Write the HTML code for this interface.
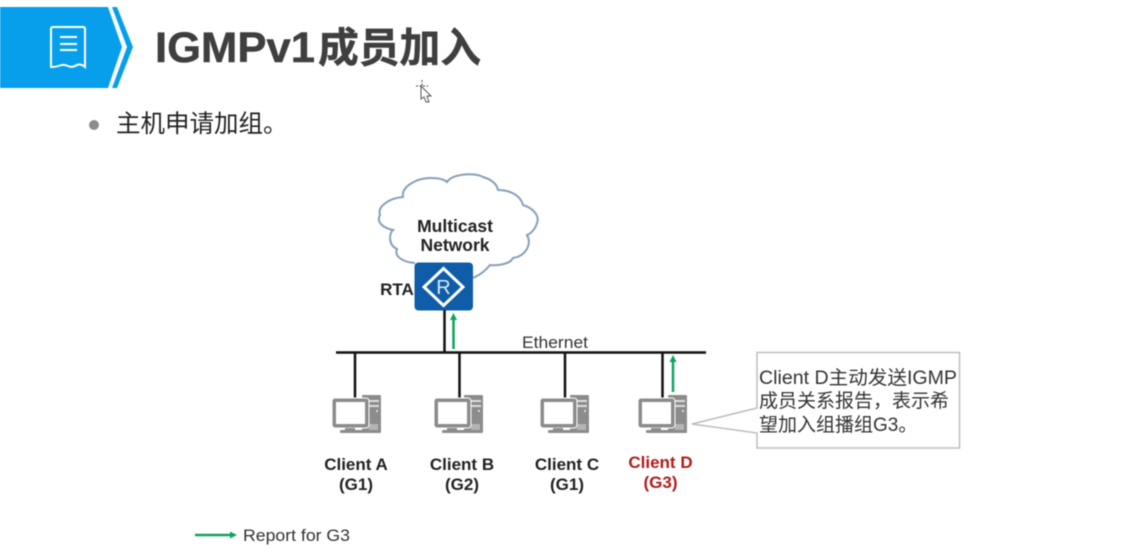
<!DOCTYPE html>
<html>
<head>
<meta charset="utf-8">
<style>
html,body{margin:0;padding:0;background:#fff;width:1122px;height:548px;overflow:hidden}
svg{display:block;filter:blur(0.4px)}
text{font-family:"Liberation Sans","Noto Sans CJK SC",sans-serif}
.b{font-weight:bold;fill:#222;font-size:17px;text-anchor:middle}
.r{font-weight:bold;fill:#b01c1c;font-size:17px;text-anchor:middle}
.c{font-size:19px;fill:#333}
</style>
</head>
<body>
<svg width="1122" height="548" viewBox="0 0 1122 548" xmlns="http://www.w3.org/2000/svg">
<defs>
<g id="pc">
  <rect x="362" y="395" width="19" height="38" rx="1" fill="#8c8c8c"/>
  <rect x="367" y="400" width="12" height="2" fill="#ddd"/>
  <rect x="367" y="405" width="12" height="2" fill="#ddd"/>
  <circle cx="377" cy="411" r="1" fill="#eee"/>
  <rect x="369" y="424" width="9" height="6" fill="#b5b5b5"/>
  <rect x="332" y="398" width="37" height="30" rx="3" fill="#8c8c8c" stroke="#fff" stroke-width="1"/>
  <rect x="336" y="402" width="29" height="22" fill="#fff"/>
  <rect x="345" y="428" width="10" height="3" fill="#8c8c8c"/>
  <rect x="340" y="430" width="25" height="3" rx="1" fill="#8c8c8c"/>
</g>
</defs>

<!-- Header -->
<polygon points="0,7 108,7 122,47 108,88 0,88" fill="#079fec"/>
<polygon points="112,7 117,7 133,47 117,88 112,88 127,47" fill="#079fec"/>
<path d="M53,27 H83 Q85,27 85,29 V67 Q80,63 76,65.500 T68,66 T60,65.500 T51,67 V29 Q51,27 53,27 Z" fill="none" stroke="#fff" stroke-width="2"/>
<path d="M60,37 H77 M60,44 H77 M60,50 H77" stroke="#fff" stroke-width="2" fill="none"/>
<text x="155" y="62" font-size="43" font-weight="bold" fill="#3f3f3f" stroke="#3f3f3f" stroke-width="0.500" textLength="160" lengthAdjust="spacingAndGlyphs">IGMPv1</text>
<text x="318" y="62" font-size="41" font-weight="bold" fill="#3f3f3f" stroke="#3f3f3f" stroke-width="0.500" textLength="163" lengthAdjust="spacingAndGlyphs">成员加入</text>

<!-- Cursor -->
<path d="M422,80 V91 M416,86 H428" stroke="#444" stroke-width="1" fill="none" stroke-dasharray="2 1.500"/>
<path d="M421,86 L431,96 L427,96 L429,102 L426,102 L424,97 L421,99 Z" fill="#fff" stroke="#555" stroke-width="1"/>

<!-- Bullet -->
<circle cx="94" cy="125" r="5" fill="#8c8c8c"/>
<text x="116" y="132" font-size="24.500" fill="#222">主机申请加组。</text>

<!-- Cloud -->
<path d="M415,263 C402,262 394,256 397,249 C388,245 389,233 393,230 C383,228 376,222 380,215 C377,206 390,198 403,197 C401,186 418,178 430,178 C438,178 444,179 447,182 C452,174 474,172 483,177 C493,180 497,185 498,190 C508,190 520,194 523,205 C533,208 540,216 537,223 C535,230 530,234 527,235 C532,244 526,256 513,258 C510,264 498,266 490,265 C486,270 480,275 473,278" fill="#fff" stroke="#86a0b8" stroke-width="2"/>
<text class="b" x="455" y="232" style="font-size:17.500px">Multicast</text>
<text class="b" x="455" y="251" style="font-size:17.500px">Network</text>

<!-- Router -->
<rect x="414.500" y="262.500" width="58.500" height="48" rx="4" fill="#0f5ca8"/>
<polygon points="443.500,268.500 463,287 443.500,305.500 424,287" fill="none" stroke="#fff" stroke-width="3"/>
<text x="443.500" y="294" font-size="20" fill="#dbe8f5" text-anchor="middle">R</text>
<text class="b" x="397" y="295">RTA</text>

<!-- Ethernet -->
<line x1="444.500" y1="310" x2="444.500" y2="352" stroke="#111" stroke-width="2.500"/>
<line x1="336" y1="352.500" x2="706" y2="352.500" stroke="#111" stroke-width="2.500"/>
<line x1="355" y1="352" x2="355" y2="399" stroke="#111" stroke-width="2.500"/>
<line x1="459.500" y1="352" x2="459.500" y2="399" stroke="#111" stroke-width="2.500"/>
<line x1="565" y1="352" x2="565" y2="399" stroke="#111" stroke-width="2.500"/>
<line x1="662.500" y1="352" x2="662.500" y2="399" stroke="#111" stroke-width="2.500"/>
<text x="522" y="348" font-size="17" fill="#333" textLength="66" lengthAdjust="spacingAndGlyphs">Ethernet</text>

<!-- Green arrows -->
<line x1="453.500" y1="318" x2="453.500" y2="349" stroke="#0aa55e" stroke-width="2.500"/>
<polygon points="453.500,313 457,320 450,320" fill="#0aa55e"/>
<line x1="673" y1="360" x2="673" y2="392" stroke="#0aa55e" stroke-width="2.500"/>
<polygon points="673,355 676.500,362 669.500,362" fill="#0aa55e"/>

<!-- Computers -->
<use href="#pc"/>
<use href="#pc" x="102"/>
<use href="#pc" x="208"/>
<use href="#pc" x="306"/>

<text class="b" x="356" y="470">Client A</text>
<text class="b" x="356" y="490">(G1)</text>
<text class="b" x="462" y="470">Client B</text>
<text class="b" x="462" y="490">(G2)</text>
<text class="b" x="567" y="470">Client C</text>
<text class="b" x="567" y="490">(G1)</text>
<text class="r" x="660.500" y="468">Client D</text>
<text class="r" x="660.500" y="488">(G3)</text>

<!-- Callout -->
<path d="M757,352.500 H959.500 V448 H757 V433 L692,424 L757,408 Z" fill="#fff" stroke="#bdbdbd" stroke-width="1.500"/>
<text class="c" x="759" y="384" textLength="198" lengthAdjust="spacingAndGlyphs">Client D主动发送IGMP</text>
<text class="c" x="759" y="407">成员关系报告，表示希</text>
<text class="c" x="759" y="431">望加入组播组G3。</text>

<!-- Legend -->
<line x1="195" y1="535" x2="231" y2="535" stroke="#0aa55e" stroke-width="2.500"/>
<polygon points="237,535 230,531.500 230,538.500" fill="#0aa55e"/>
<text x="243" y="541" font-size="17" fill="#333" textLength="107" lengthAdjust="spacingAndGlyphs">Report for G3</text>
</svg>
</body>
</html>
